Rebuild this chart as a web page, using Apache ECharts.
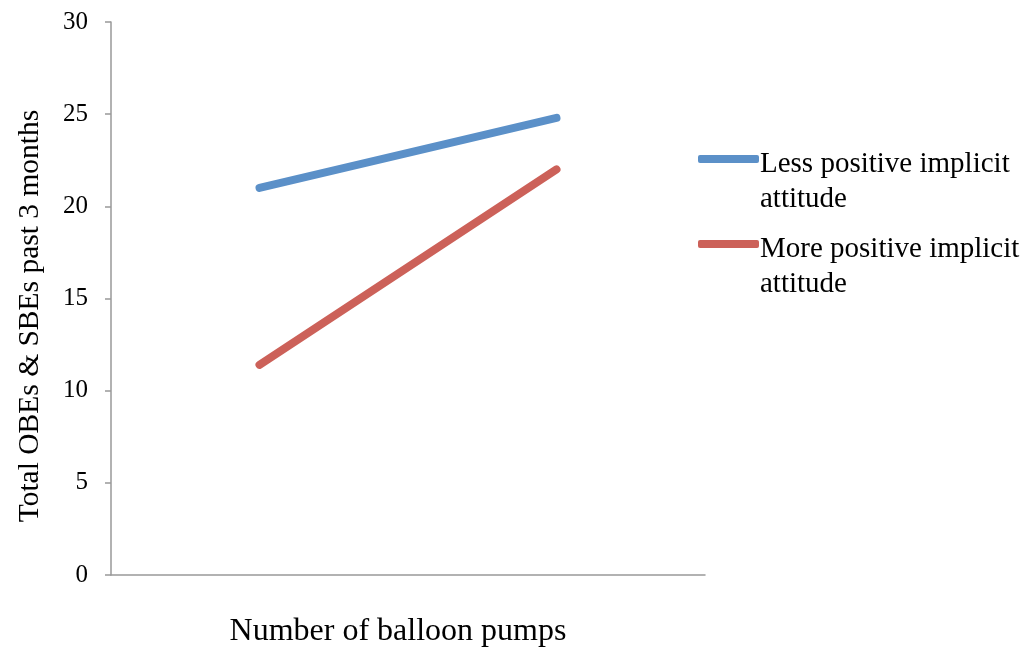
<!DOCTYPE html>
<html>
<head>
<meta charset="utf-8">
<script src="https://cdn.jsdelivr.net/npm/echarts@6/dist/echarts.min.js"></script>
<style>
  html, body { margin: 0; padding: 0; background: #fff; }
  #chart { width: 1029px; height: 648px; }
</style>
</head>
<body>
<div id="chart"></div>
<script>
// data
var categories = ['Low', 'High'];
var seriesNames = ['Less positive implicit\nattitude', 'More positive implicit\nattitude'];
var lessPositive = [21.0, 24.8];
var morePositive = [11.4, 22.0];
var colors = ['#5B90C8', '#CC6159'];

var font = 'Liberation Serif';

var myChart = echarts.init(document.getElementById('chart'));

// legend: icon lines up with the first text line, like the original
function legendFor(i, top) {
    return {
        data: [seriesNames[i]],
        left: 693,
        top: top,
        icon: 'roundRect',
        itemWidth: 61,
        itemHeight: 8,
        selectedMode: false,
        formatter: function (name) {
            return '{sp| }\n' + name.split('\n').map(function (s) {
                return '{t|' + s + '}';
            }).join('\n');
        },
        textStyle: {
            fontFamily: font,
            fontSize: 29,
            color: '#000',
            padding: [0, 0, 0, -4],
            rich: {
                sp: { fontSize: 10, lineHeight: 45 },
                t: { fontFamily: font, fontSize: 29, color: '#000', lineHeight: 35 }
            }
        }
    };
}

myChart.setOption({
    animation: false,
    color: colors,
    grid: { left: 111, right: 324, top: 22, bottom: 73, outerBoundsMode: 'none' },
    legend: [legendFor(0, 114), legendFor(1, 199)],
    xAxis: {
        type: 'category',
        data: categories,
        boundaryGap: true,
        name: 'Number of balloon pumps',
        nameLocation: 'middle',
        nameGap: 41,
        nameTextStyle: { fontFamily: font, fontSize: 32, color: '#000', padding: [0, 20, 0, 0] },
        axisLine: { lineStyle: { color: '#999', width: 1.5 } },
        axisTick: { show: false },
        axisLabel: { show: false },
        splitLine: { show: false }
    },
    yAxis: {
        type: 'value',
        min: 0,
        max: 30,
        interval: 5,
        name: 'Total OBEs & SBEs past 3 months',
        nameLocation: 'middle',
        nameGap: 66,
        nameTextStyle: { fontFamily: font, fontSize: 29.5, color: '#000', padding: [0, 35, 0, 0] },
        axisLine: { show: true, lineStyle: { color: '#999', width: 1.5 } },
        axisTick: { show: true, length: 6, lineStyle: { color: '#999', width: 1.5 } },
        axisLabel: { fontFamily: font, fontSize: 25, color: '#000', margin: 23 },
        splitLine: { show: false }
    },
    series: [
        {
            name: seriesNames[0],
            type: 'line',
            data: lessPositive,
            showSymbol: false,
            lineStyle: { width: 8, cap: 'round', color: colors[0] },
            itemStyle: { color: colors[0] }
        },
        {
            name: seriesNames[1],
            type: 'line',
            data: morePositive,
            showSymbol: false,
            lineStyle: { width: 8, cap: 'round', color: colors[1] },
            itemStyle: { color: colors[1] }
        }
    ]
});
</script>
</body>
</html>
